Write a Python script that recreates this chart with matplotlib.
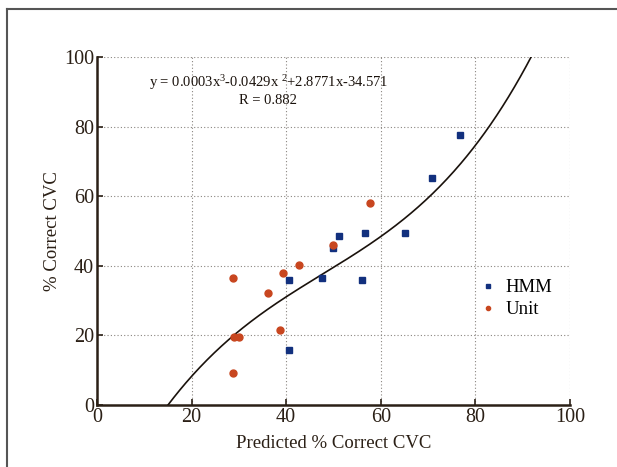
import matplotlib.pyplot as plt
import numpy as np
from matplotlib.lines import Line2D

plt.rcParams['font.family'] = ['Liberation Serif', 'DejaVu Serif']
plt.rcParams['mathtext.fontset'] = 'custom'
plt.rcParams['mathtext.rm'] = 'Liberation Serif'
plt.rcParams['mathtext.default'] = 'regular'

# data
hmm_x = [40.6, 40.7, 47.6, 50.0, 51.1, 56.0, 56.6, 65.1, 70.9, 76.7]
hmm_y = [15.8, 35.8, 36.6, 45.2, 48.6, 35.8, 49.4, 49.4, 65.2, 77.6]
unit_x = [28.7, 28.8, 28.9, 30.1, 36.1, 38.7, 39.3, 42.7, 49.9, 57.7]
unit_y = [9.3, 36.6, 19.4, 19.4, 32.2, 21.6, 38.0, 40.1, 45.9, 58.0]
fit_coef = [0.0003, -0.0429, 2.8771, -34.571]
ticks = [0, 20, 40, 60, 80, 100]

axis_col = '#2b2016'

fig = plt.figure(figsize=(6.17, 4.67), dpi=100)
ax = fig.add_axes([0.157, 0.1328, 0.767, 0.7452])

xf = np.linspace(0, 100, 400)
ax.plot(xf, np.polyval(fit_coef, xf), color='#1a120c', linewidth=1.2, zorder=3)

ax.plot(hmm_x, hmm_y, linestyle='none', marker='s', markersize=5,
        color='#12307e', label='HMM', zorder=4)
ax.plot(unit_x, unit_y, linestyle='none', marker='o', markersize=5,
        color='#c8461f', label='Unit', zorder=4)

ax.set_xlim(0, 100)
ax.set_ylim(0, 100)
ax.set_xticks(ticks)
ax.set_yticks(ticks)
ax.grid(True, linestyle=(0, (1, 2)), color='#8a8580', linewidth=0.8)
for s in ['top', 'right']:
    ax.spines[s].set_visible(False)
for s in ['left', 'bottom']:
    ax.spines[s].set_color(axis_col)
    ax.spines[s].set_linewidth(1.8)
ax.tick_params(direction='in', length=4, width=1.2, color=axis_col,
               labelsize=14.5, labelcolor='#2b2016', pad=2)

ax.set_xlabel('Predicted % Correct CVC', fontsize=13.5, color='#2b2016', labelpad=6)
ax.set_ylabel('% Correct CVC', fontsize=13.5, color='#2b2016', labelpad=2)

ax.text(36.2, 92.6, r'y = 0.0003x$^{3}$-0.0429x $^{2}$+2.8771x-34.571',
        ha='center', va='center', fontsize=10.5, color='#1a120c')
ax.text(36.2, 87.6, 'R = 0.882', ha='center', va='center', fontsize=10.5,
        color='#1a120c')

leg = ax.legend(loc='upper left', bbox_to_anchor=(0.78, 0.41), frameon=False,
                fontsize=13.5, handlelength=0.6, handletextpad=0.6,
                markerscale=0.6, labelspacing=0.25)

# outer frame
fig.add_artist(Line2D([7 / 617, 7 / 617], [0, 1 - 9 / 467],
                      transform=fig.transFigure, color='#555555', linewidth=1.5))
fig.add_artist(Line2D([7 / 617, 1], [1 - 9 / 467, 1 - 9 / 467],
                      transform=fig.transFigure, color='#555555', linewidth=1.5))

fig.savefig('out.png', dpi=100)
